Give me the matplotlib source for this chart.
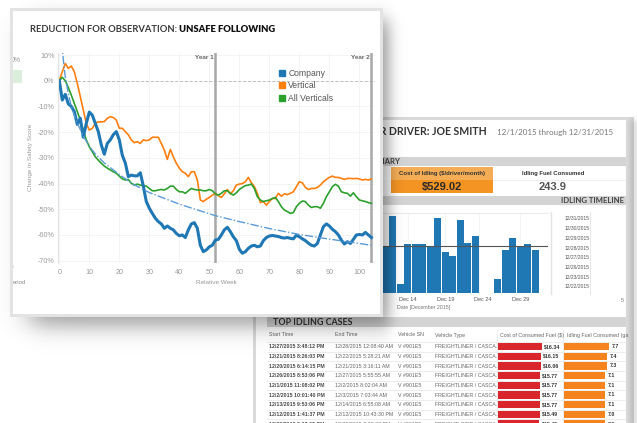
import numpy as np
import matplotlib
matplotlib.use('Agg')
from matplotlib import pyplot as plt
from matplotlib.patches import Rectangle
from matplotlib.lines import Line2D

plt.rcParams['font.family'] = ['Liberation Sans', 'DejaVu Sans']

# ---- data: reduction for observation (change in safety score, %) ----
weeks = list(range(105))
company = [0, -7.5, -5.3, -9, -10, -12, -17, -14.6, -22, -16.6,
           -12.2, -13.4, -16.6, -19.8, -25, -28.6, -24.4, -23, -21, -19.8,
           -23, -29, -32, -37.3, -36.7, -37, -37, -35.8, -41, -47,
           -49.6, -51.6, -53.5, -54.8, -55.7, -57.4, -56.5, -57.4, -58, -59.4,
           -60.3, -60, -61, -58, -55.7, -55.2, -57.4, -64, -66.5, -65.8,
           -64.6, -64, -62, -61.7, -60, -58, -57, -58.7, -60.7, -62.2,
           -65.6, -67.1, -66.5, -65.2, -64.3, -64, -64.6, -64.3, -62.2, -61,
           -60.4, -60.2, -60.4, -60.6, -61, -61.2, -61, -61.3, -61.5, -60.1,
           -60.7, -61.5, -62.2, -63.2, -64, -64.3, -63.3, -60, -56.8, -55.7,
           -56.5, -57.8, -58.7, -60, -62, -63.5, -62.6, -63.3, -61.7, -60,
           -59.8, -60, -59, -60, -61]
vertical = [0, 3.5, 6.7, 4.8, 5.7, 3.5, -1, -6.2, -11.4, -16.6,
            -19.2, -18.5, -16.6, -16, -16, -15.9, -14.6, -14, -14.3, -15.3,
            -18.5, -18.5, -19.8, -21, -23, -24.1, -23.7, -24.4, -23, -23.3,
            -23, -22, -22, -22, -24.4, -27, -30.6, -26.7, -29.6, -32.1,
            -34, -35.4, -36, -37.3, -35.4, -35.4, -38.6, -46.4, -47, -46.1,
            -45.4, -44.5, -43.8, -44.7, -45.4, -44, -42.3, -44, -42.8, -40.6,
            -40.2, -40, -39.3, -37.6, -39.7, -41.2, -43.8, -47.4, -47, -48.4,
            -47, -45.8, -45.8, -43.8, -44.9, -44, -44.3, -43.8, -43.2, -41.2,
            -39.3, -39.7, -41.5, -42.3, -41.9, -41.9, -41.5, -40.6, -39.3, -38.4,
            -37.6, -37.1, -37.6, -37.6, -38, -38.4, -38, -38, -38.1, -38,
            -38.2, -38.6, -38.4, -38.6, -38.2]
all_verticals = [0, 1.3, 0, -2.6, -5.6, -8.8, -12, -15.3, -19.4, -23,
                 -25.7, -27.6, -29.6, -30.9, -32.1, -33.2, -34, -34.7, -35.4, -36,
                 -37.1, -38.2, -38.6, -38.4, -39.9, -40.6, -40.2, -40.6, -40.8, -41,
                 -41.9, -42.8, -42.8, -42.5, -42.3, -42.5, -41.9, -41, -41, -42.3,
                 -43.2, -43.2, -43.8, -42.8, -41.9, -42.3, -42.5, -42.5, -42.8, -42.8,
                 -42.3, -42.8, -44, -44.5, -43.8, -42.8, -42.8, -43.8, -44.5, -43.6,
                 -42.3, -41.5, -40.8, -40.6, -40.2, -41.9, -45.1, -46.4, -47, -46.7,
                 -46.4, -45.8, -45.4, -47, -49, -50.3, -50.9, -51.6, -51.3, -49,
                 -47.7, -46.8, -47, -48.4, -49.3, -49, -49, -49.6, -47.7, -45.1,
                 -43.2, -41.2, -40.3, -41, -43.2, -43.6, -43.8, -44.9, -43.6, -45.1,
                 -46.4, -46.7, -47, -47.4, -47.7]
trend_weeks = [0.8, 1, 1.5, 2, 3, 4, 5, 6, 8, 10, 12, 15, 20, 25, 30, 40, 52, 60, 70, 80, 90, 104]
trend_vals = [15, 12, 6.5, 1.5, -5, -10, -13.5, -16.5, -21.5, -25.5, -28.5, -32, -36.5,
              -40.5, -43.5, -48, -52.5, -54.8, -57.5, -59.8, -61.6, -64]
year_weeks = [52, 104]
year_labels = ['Year 1', 'Year 2']

# ---- data: idling timeline (December 2015) ----
days = [11, 12, 13, 14, 15, 16, 17, 18, 19, 20, 21, 22, 23, 26, 27, 28, 29, 30, 31]
idle = [5.4, 9.0, 1.0, 5.8, 5.7, 5.8, 5.4, 8.8, 4.8, 4.4, 8.6, 5.9, 6.7, 1.7, 5.0, 6.5, 5.4, 5.8, 5.0]
idle_avg = 5.56
day_ticks = [14, 19, 24, 29]
date_list = ['12/31/2015', '12/30/2015', '12/29/2015', '12/28/2015',
             '12/27/2015', '12/26/2015', '12/23/2015', '12/22/2015']

# ---- data: top idling cases ----
start_times = ['12/27/2015 3:48:12 PM', '12/21/2015 8:26:03 PM', '12/20/2015 6:14:15 PM',
               '12/26/2015 8:53:06 PM', '12/1/2015 11:08:02 PM', '12/2/2015 10:01:40 PM',
               '12/13/2015 9:53:06 PM', '12/12/2015 1:41:37 PM', '12/30/2015 2:37:09 PM']
end_times = ['12/28/2015 12:08:40 AM', '12/22/2015 5:28:21 AM', '12/21/2015 3:16:11 AM',
             '12/27/2015 5:55:55 AM', '12/2/2015 8:02:04 AM', '12/3/2015 7:03:44 AM',
             '12/14/2015 6:55:08 AM', '12/12/2015 10:43:30 PM', '12/30/2015 9:02:33 PM']
vehicle_sn = 'V #901E5'
vehicle_type = 'FREIGHTLINER / CASCA.'
cost = [16.34, 16.15, 16.06, 15.77, 15.77, 15.77, 15.77, 15.49, 15.45]
fuel = [7.7, 7.4, 7.3, 7.1, 7.1, 7.1, 7.1, 7.0, 7.0]

W, H = 637, 423
fig = plt.figure(figsize=(W / 100, H / 100), dpi=100)


def add_ax(l, t, r, b, z):
    return fig.add_axes([l / W, 1 - b / H, (r - l) / W, (b - t) / H], zorder=z)


def canvas(z):
    a = add_ax(0, 0, W, H, z)
    a.set_xlim(0, W)
    a.set_ylim(H, 0)
    a.axis('off')
    a.patch.set_visible(False)
    return a


# ================= back panel =================
cb = canvas(0)
cb.add_patch(Rectangle((253, 117), 381, 320, fc='#d9d9d9', ec='none'))
cb.add_patch(Rectangle((256, 120), 370, 320, fc='white', ec='none'))
cb.text(487, 131.5, 'IDLING REPORT FOR DRIVER: JOE SMITH', ha='right', va='center',
        family='Lato', fontweight='bold', fontsize=7.6, color='#333333')
cb.text(497, 132, '12/1/2015 through 12/31/2015', ha='left', va='center',
        family='Lato', fontsize=5.75, color='#777777')
cb.add_patch(Rectangle((258, 157), 368, 9.5, fc='#d4d4d4', ec='none'))
cb.text(401, 161.8, 'SUMMARY', ha='right', va='center', family='Lato',
        fontweight='bold', fontsize=5.6, color='#444444')
cb.add_patch(Rectangle((391, 167), 102, 13, fc='#f5ad55', ec='none'))
cb.add_patch(Rectangle((391, 180), 102, 13.5, fc='#f39423', ec='none'))
cb.text(442, 173.5, 'Cost of Idling ($/driver/month)', ha='center', va='center',
        fontsize=4.3, fontweight='bold', color='#333333')
cb.text(442, 187, '$529.02', ha='center', va='center', fontsize=8,
        fontweight='bold', color='#2a2a2a')
cb.text(553, 174, 'Idling Fuel Consumed', ha='center', va='center', fontsize=4.3,
        fontweight='bold', color='#333333')
cb.text(553, 187.5, '243.9', ha='center', va='center', fontsize=8,
        fontweight='bold', color='#555555')
cb.plot([493, 626], [180, 180], color='#e6e6e6', lw=0.5)
cb.add_patch(Rectangle((258, 196), 368, 9.5, fc='#d4d4d4', ec='none'))
cb.text(624, 200.8, 'IDLING TIMELINE', ha='right', va='center', family='Lato',
        fontweight='bold', fontsize=5.6, color='#444444')
cb.text(397, 307, 'Date [December 2015]', ha='left', va='center', fontsize=3.8, color='#777777')
cb.plot([551, 551], [212, 294], color='#e3e3e3', lw=1)
cb.plot([590, 590], [212, 294], color='#e3e3e3', lw=0.6)
for i, d in enumerate(date_list):
    cb.text(577, 219 + i * 9.67, d, ha='center', va='center', fontsize=3.6, color='#555555')
cb.text(622, 300, '5', ha='center', va='center', fontsize=3.8, color='#777777')

# table
cb.add_patch(Rectangle((267, 317), 359, 10, fc='#d4d4d4', ec='none'))
cb.text(273, 322.3, 'TOP IDLING CASES', ha='left', va='center', family='Lato',
        fontweight='bold', fontsize=6.4, color='#333333')
headers = [(269, 'Start Time'), (335, 'End Time'), (398, 'Vehicle SN'),
           (435, 'Vehicle Type'), (500, 'Cost of Consumed Fuel ($)'), (567, 'Idling Fuel Consumed (ga')]
for x, s in headers:
    cb.text(x, 335, s, ha='left', va='center', fontsize=3.8, color='#666666')
for i in range(len(start_times)):
    y = 346.7 + i * 9.67
    cb.plot([267, 626], [y - 4.8, y - 4.8], color='#e4e4e4', lw=0.5)
    cb.text(269, y, start_times[i], ha='left', va='center', fontsize=3.8,
            fontweight='bold', color='#4a4a4a')
    cb.text(335, y, end_times[i], ha='left', va='center', fontsize=3.8, color='#666666')
    cb.text(398, y, vehicle_sn, ha='left', va='center', fontsize=3.8, color='#666666')
    cb.text(435, y, vehicle_type, ha='left', va='center', fontsize=3.8, color='#666666')
cb.plot([497, 497], [330, 423], color='#e4e4e4', lw=0.5)
cb.plot([563, 563], [330, 423], color='#e4e4e4', lw=0.5)

# idling timeline bars
ab = add_ax(300, 213, 548, 293, 1)
ab.bar(days, idle, width=0.88, color='#1f77b4')
ab.axhline(idle_avg, color='#555555', lw=0.8)
ab.set_xlim(-0.36, 32.7)
ab.set_ylim(0, 9.4)
ab.set_xticks(day_ticks)
ab.set_xticklabels(['Dec %d' % d for d in day_ticks])
ab.set_yticks([])
ab.tick_params(axis='x', length=0, labelsize=4, labelcolor='#555555', pad=3)
for x in day_ticks:
    ab.axvline(x - 0.5 if x == 24 else x, color='#f0f0f0', lw=0.5, zorder=0)
for s in ['left', 'right', 'bottom']:
    ab.spines[s].set_visible(False)
ab.spines['top'].set_color('#e6e6e6')
ab.spines['top'].set_linewidth(0.6)

# table bars
rows = list(range(len(cost)))
ar = add_ax(497.7, 341.8, 562.5, 433, 1)
ar.barh(rows, cost, height=0.76, color='#d8262c')
ar.set_xlim(0, 24)
ar.set_ylim(8.93, -0.5)
for i, v in enumerate(cost):
    ar.annotate('$%.2f' % v, (v, i), xytext=(1.5, 0), textcoords='offset points',
                va='center', fontsize=3.8, fontweight='bold', color='#333333')
ar.axis('off')

ao = add_ax(564.3, 341.8, 626, 433, 1)
ao.barh(rows, fuel, height=0.76, color='#f5841f')
ao.set_xlim(0, (626 - 564.3) / 5.8)
ao.set_ylim(8.93, -0.5)
for i, v in enumerate(fuel):
    ao.annotate('%.1f' % v, (v, i), xytext=(2, 0), textcoords='offset points',
                va='center', fontsize=3.8, fontweight='bold', color='#333333')
ao.axis('off')

# ================= front panel =================
cf = canvas(2)


def phi(z):
    return 1 / (1 + np.exp(-1.702 * z))


xs = np.arange(0, W) + 0.5
ys = np.arange(0, H) + 0.5
X, Y = np.meshgrid(xs, ys)
alpha = 0.38 * (phi((X - 30) / 14) - phi((X - 389) / 7)) * (phi((Y - 20) / 10) - phi((Y - 326) / 11))
shadow = np.zeros((H, W, 4))
shadow[..., 3] = alpha
cf.imshow(shadow, extent=(0, W, H, 0), aspect='auto', interpolation='bilinear', zorder=0)
# right edge shade of back panel
alpha2 = 0.12 * (phi((X - 630) / 2) - phi((X - 640) / 3)) * phi((Y - 120) / 3)
shadow2 = np.zeros((H, W, 4))
shadow2[..., 3] = alpha2
cf.imshow(shadow2, extent=(0, W, H, 0), aspect='auto', interpolation='bilinear', zorder=0)
cf.set_xlim(0, W)
cf.set_ylim(H, 0)

cf.add_patch(Rectangle((10, 8), 373, 309, fc='#e3e3e3', ec='none', zorder=1))
cf.add_patch(Rectangle((13, 11), 367, 303, fc='white', ec='none', zorder=1))

# title in two weights, fitted to the reference width (x 30 -> 278)
t1 = cf.text(30, 29, 'REDUCTION FOR OBSERVATION: ', ha='left', va='center', family='Lato',
             fontweight='bold', fontsize=7.3, color='#3a3a3a', zorder=2)
t2 = cf.text(200, 29, 'UNSAFE FOLLOWING', ha='left', va='center', family='Lato',
             fontweight='heavy', fontsize=7.3, color='#111111', zorder=2)
fig.canvas.draw()
r = fig.canvas.get_renderer()
w_all = t1.get_window_extent(r).width + t2.get_window_extent(r).width
fs = 7.3 * 248 / w_all
t1.set_fontsize(fs)
t2.set_fontsize(fs)
fig.canvas.draw()
t2.set_x(30 + t1.get_window_extent(r).width)

cf.add_patch(Rectangle((13, 70), 9, 13, fc='#dcefdc', ec='none', zorder=2))
cf.text(10.5, 60, '0%', ha='left', va='center', fontsize=5, color='#999999', zorder=2)
cf.text(12.5, 283, 'eriod', ha='left', va='center', fontsize=4.2, color='#888888', zorder=2)
cf.text(13, 269, '\u02bc', ha='left', va='center', fontsize=4.2, color='#888888', zorder=2)
cf.add_patch(Rectangle((10, 8), 3, 309, fc='#e3e3e3', ec='none', zorder=3))

# line chart
ax = add_ax(58, 52.7, 375, 263, 3)
ax.patch.set_visible(False)
ax.set_xlim(-0.43, 105.2)
ax.set_ylim(-70.9, 10.9)
ax.set_xticks(range(0, 101, 10))
ax.set_yticks(range(-70, 11, 10))
ax.set_yticklabels(['%d%%' % v for v in range(-70, 11, 10)])
ax.tick_params(length=0, labelsize=5.2, labelcolor='#9a9a9a', pad=2.5)
ax.tick_params(axis='x', pad=4)
ax.grid(color='#f2f2f2', lw=0.6)
ax.set_axisbelow(True)
for s in ['top', 'right', 'bottom']:
    ax.spines[s].set_visible(False)
ax.spines['left'].set_color('#e4e4e4')
ax.spines['left'].set_linewidth(0.8)
ax.axhline(0, color='#bdbdbd', lw=0.7, ls=(0, (3, 2)))
for w, lab in zip(year_weeks, year_labels):
    ax.axvline(w, color='#a8a8a8', lw=1.8)
    ax.text(w - 0.6, 9.1, lab, ha='right', va='center', fontsize=4.6,
            fontweight='bold', color='#666666')
ax.plot(weeks, vertical, color='#ff7f0e', lw=1.2)
ax.plot(weeks, all_verticals, color='#2ca02c', lw=1.2)
ax.plot(weeks, company, color='#1f77b4', lw=2.2)
ax.plot(trend_weeks, trend_vals, color='#5b9bd5', lw=1.0, ls=(0, (6, 1.5, 1, 1.5)))
ax.set_xlabel('Relative Week', fontsize=4.6, color='#999999', labelpad=3)
ax.set_ylabel('Change in Safety Score', fontsize=4.6, color='#999999', labelpad=3)
handles = [Line2D([], [], ls='none', marker='s', ms=5, color=c)
           for c in ['#1f77b4', '#ff7f0e', '#2ca02c']]
ax.legend(handles, ['Company', 'Vertical', 'All Verticals'], loc='upper left',
          bbox_to_anchor=(0.678, 0.945), frameon=False, fontsize=6.2,
          labelcolor='#555555', handlelength=1.0, handletextpad=0.3,
          labelspacing=0.45, borderpad=0)

fig.savefig('out.png', dpi=100)
